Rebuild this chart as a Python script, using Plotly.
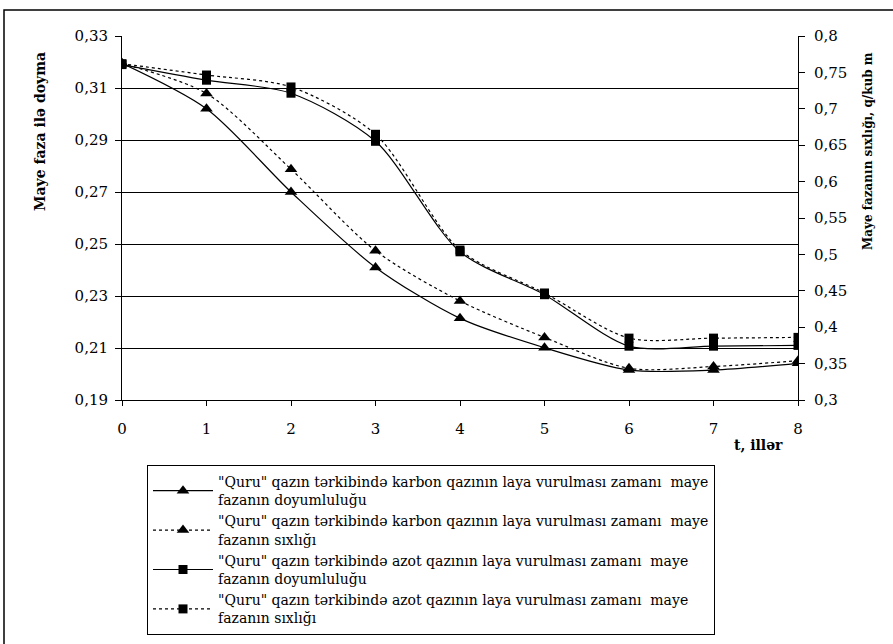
import plotly.graph_objects as go

years = [0, 1, 2, 3, 4, 5, 6, 7, 8]
carbon_saturation = [0.3195, 0.302, 0.270, 0.241, 0.2214, 0.2101, 0.2015, 0.2015, 0.2041]
carbon_density = [0.762, 0.721, 0.617, 0.505, 0.436, 0.386, 0.3435, 0.346, 0.354]
azot_saturation = [0.319, 0.313, 0.308, 0.2895, 0.247, 0.2305, 0.2107, 0.2107, 0.211]
azot_density = [0.762, 0.7464, 0.730, 0.665, 0.506, 0.447, 0.385, 0.385, 0.386]

left_ticks = [0.19, 0.21, 0.23, 0.25, 0.27, 0.29, 0.31, 0.33]
left_labels = ["0,19", "0,21", "0,23", "0,25", "0,27", "0,29", "0,31", "0,33"]
right_ticks = [0.3, 0.35, 0.4, 0.45, 0.5, 0.55, 0.6, 0.65, 0.7, 0.75, 0.8]
right_labels = ["0,3", "0,35", "0,4", "0,45", "0,5", "0,55", "0,6", "0,65", "0,7", "0,75", "0,8"]

names = [
    '"Quru" qazın tərkibində karbon qazının laya vurulması zamanı  maye<br>fazanın doyumluluğu',
    '"Quru" qazın tərkibində karbon qazının laya vurulması zamanı  maye<br>fazanın sıxlığı',
    '"Quru" qazın tərkibində azot qazının laya vurulması zamanı  maye<br>fazanın doyumluluğu',
    '"Quru" qazın tərkibində azot qazının laya vurulması zamanı  maye<br>fazanın sıxlığı',
]

FONT = "DejaVu Serif"
DASH = "3px,3px"

fig = go.Figure()
fig.add_trace(go.Scatter(x=years, y=carbon_saturation, name=names[0], yaxis="y",
                         mode="lines+markers", line=dict(color="black", width=1.2, shape="spline", smoothing=0.8),
                         marker=dict(symbol="triangle-up", size=11, color="black")))
fig.add_trace(go.Scatter(x=years, y=carbon_density, name=names[1], yaxis="y2",
                         mode="lines+markers", line=dict(color="black", width=1.2, dash=DASH, shape="spline", smoothing=0.8),
                         marker=dict(symbol="triangle-up", size=11, color="black")))
fig.add_trace(go.Scatter(x=years, y=azot_saturation, name=names[2], yaxis="y",
                         mode="lines+markers", line=dict(color="black", width=1.2, shape="spline", smoothing=0.8),
                         marker=dict(symbol="square", size=9, color="black")))
fig.add_trace(go.Scatter(x=years, y=azot_density, name=names[3], yaxis="y2",
                         mode="lines+markers", line=dict(color="black", width=1.2, dash=DASH, shape="spline", smoothing=0.8),
                         marker=dict(symbol="square", size=9, color="black")))

L, R, T, B = 122, 798, 36, 400
W, H = 893, 644
def px(x):
    return (x - L) / (R - L)
def py(y):
    return (B - y) / (B - T)

common_y = dict(showline=True, linecolor="black", linewidth=1, zeroline=False,
                tickfont=dict(family=FONT, size=15, color="black"), ticklen=6, tickcolor="black")

fig.update_layout(
    width=W, height=H,
    margin=dict(l=L, r=W - R, t=T, b=H - B, autoexpand=False),
    paper_bgcolor="white", plot_bgcolor="white",
    font=dict(family=FONT, color="black"),
    showlegend=True,
    xaxis=dict(range=[0, 8], tickvals=years, ticktext=[str(v) for v in years],
               showline=True, linecolor="black", linewidth=1, ticks="outside", ticklen=5,
               tickcolor="black", showgrid=False, zeroline=False, ticklabelstandoff=10,
               tickfont=dict(family=FONT, size=15, color="black")),
    yaxis=dict(range=[0.19, 0.33], tickvals=left_ticks, ticktext=left_labels, ticks="outside",
               showgrid=True, gridcolor="black", gridwidth=1, ticklabelstandoff=4, **common_y),
    yaxis2=dict(range=[0.3, 0.8], tickvals=right_ticks, ticktext=right_labels, ticks="outside",
                overlaying="y", side="right", showgrid=False, ticklabelstandoff=6, **common_y),
    yaxis3=dict(range=[0.19, 0.33], tickvals=left_ticks, overlaying="y", side="left", ticks="inside",
                ticklen=5, tickcolor="black", showticklabels=False, showgrid=False, showline=False, zeroline=False),
    yaxis4=dict(range=[0.3, 0.8], tickvals=right_ticks, overlaying="y", side="right", ticks="inside",
                ticklen=5, tickcolor="black", showticklabels=False, showgrid=False, showline=False, zeroline=False),
    legend=dict(x=px(147), y=py(465), xanchor="left", yanchor="top",
                bordercolor="black", borderwidth=1, bgcolor="white",
                font=dict(family=FONT, size=14, color="black"),
                itemwidth=60, tracegroupgap=0),
    annotations=[
        dict(text="<b>Maye faza ilə doyma</b>", x=px(40), y=py(132), xref="paper", yref="paper",
             xanchor="center", yanchor="middle",
             textangle=-90, showarrow=False, font=dict(family=FONT, size=14, color="black")),
        dict(text="<b>Maye fazanın sıxlığı, q/kub m</b>", x=px(868), y=py(151), xref="paper", yref="paper",
             xanchor="center", yanchor="middle",
             textangle=-90, showarrow=False, font=dict(family=FONT, size=12, color="black")),
        dict(text="<b>t, illər</b>", x=px(758), y=py(445), xref="paper", yref="paper",
             xanchor="center", yanchor="middle",
             showarrow=False, font=dict(family=FONT, size=14, color="black")),
    ],
    shapes=[
        dict(type="rect", xref="paper", yref="paper", x0=px(4), y0=py(10), x1=px(905), y1=py(660),
             line=dict(color="black", width=1.5), layer="below"),
    ],
)

fig.write_html("out.html")
